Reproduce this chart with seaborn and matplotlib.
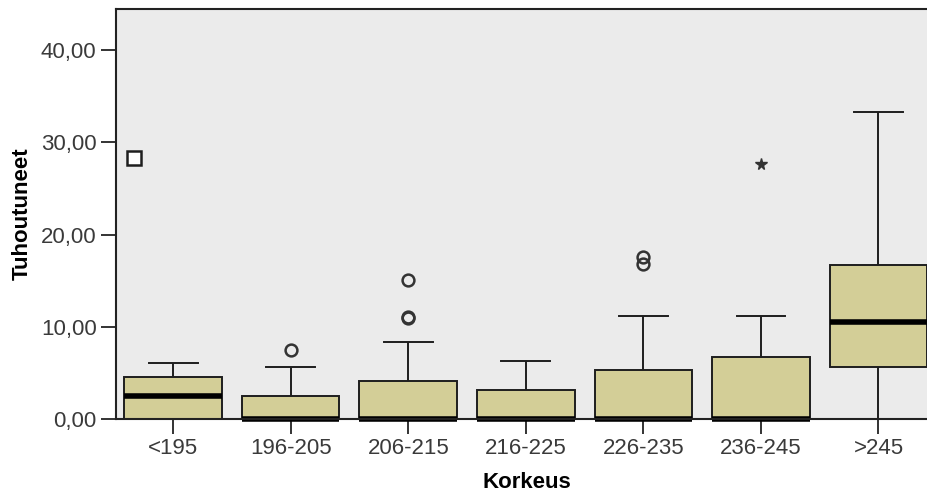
import numpy as np
import pandas as pd
import seaborn as sns
import matplotlib.pyplot as plt

# luokat ja laatikoiden tunnusluvut (luettu kuvasta)
korkeus = ["<195", "196-205", "206-215", "216-225", "226-235", "236-245", ">245"]
alaviiksi = [0, 0, 0, 0, 0, 0, 0]
q1 = [0, 0, 0, 0, 0, 0, 5.6]
mediaani = [2.5, 0, 0, 0, 0, 0, 10.5]
q3 = [4.55, 2.5, 4.1, 3.15, 5.3, 6.7, 16.7]
ylaviiksi = [6.07, 5.6, 8.3, 6.3, 11.2, 11.2, 33.3]

# poikkeavat havainnot
poik_ryhma = ["196-205", "206-215", "206-215", "206-215", "226-235", "226-235"]
poik_arvo = [7.5, 10.9, 11.1, 15.1, 16.8, 17.6]
aari_ryhma = ["236-245"]
aari_arvo = [27.7]
nelio_ryhma = ["<195"]
nelio_arvo = [28.3]

yticks = [0, 10, 20, 30, 40]
ytick_labels = ["0,00", "10,00", "20,00", "30,00", "40,00"]

# pitkä taulukko: viisi arvoa / luokka -> kvartiilit osuvat kohdalleen
rivit = []
for i, k in enumerate(korkeus):
    for v in [alaviiksi[i], q1[i], mediaani[i], q3[i], ylaviiksi[i]]:
        rivit.append({"Korkeus": k, "Tuhoutuneet": v})
tabela = pd.DataFrame(rivit)

plt.rcParams["font.family"] = ["Liberation Sans", "DejaVu Sans"]

fig = plt.figure(figsize=(9.28, 4.95), dpi=100)
ax = fig.add_axes([0.125, 0.1535, 0.885, 0.8283])
ax.set_facecolor("#EBEBEB")

sns.boxplot(data=tabela, x="Korkeus", y="Tuhoutuneet", order=korkeus,
            color="#D3CE97", saturation=1, width=0.83, whis=(0, 100),
            showfliers=False, linecolor="#1e1e1e", linewidth=1.4,
            medianprops=dict(color="black", linewidth=4), ax=ax)

for l in ax.lines:
    l.set_clip_on(False)

# poikkeamat
x_poik = [korkeus.index(k) for k in poik_ryhma]
ax.plot(x_poik, poik_arvo, "o", ms=8.5, mfc="none", mec="#333333", mew=1.8, ls="none")
x_aari = [korkeus.index(k) for k in aari_ryhma]
ax.plot(x_aari, aari_arvo, "*", ms=8.5, color="#333333", ls="none")
x_nel = [korkeus.index(k) - 0.33 for k in nelio_ryhma]
ax.plot(x_nel, nelio_arvo, "s", ms=10.5, mfc="white", mec="#1e1e1e", mew=1.8, ls="none")

ax.set_xlim(-0.486, 6.5)
ax.set_ylim(0, 44.45)
ax.set_yticks(yticks)
ax.set_yticklabels(ytick_labels)

for s in ax.spines.values():
    s.set_color("#222222")
    s.set_linewidth(1.5)

ax.tick_params(axis="both", length=11, width=1.4, color="#333333",
               labelsize=16, labelcolor="#3a3a3a", pad=3)
ax.set_xlabel("Korkeus", fontweight="bold", fontsize=16, labelpad=9)
ax.set_ylabel("Tuhoutuneet", fontweight="bold", fontsize=16, labelpad=6)

plt.savefig("out.png", dpi=100)
